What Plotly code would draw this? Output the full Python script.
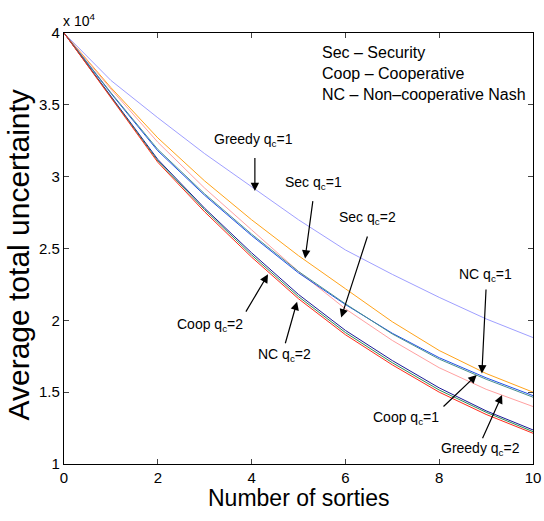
import plotly.graph_objects as go

# Number of sorties
sorties = list(range(0, 11))

# Average total uncertainty (in units of 10^4)
greedy_q1 = [4.0, 3.67, 3.41, 3.16, 2.93, 2.70, 2.49, 2.32, 2.16, 2.01, 1.88]
sec_q1 = [4.0, 3.62, 3.27, 2.97, 2.70, 2.45, 2.22, 1.99, 1.79, 1.63, 1.50]
greedy_q2 = [4.0, 3.61, 3.24, 2.92, 2.63, 2.34, 2.08, 1.86, 1.67, 1.52, 1.40]
nc_q1 = [4.0, 3.58, 3.18, 2.87, 2.59, 2.33, 2.11, 1.91, 1.74, 1.60, 1.476]
coop_q1 = [4.0, 3.585, 3.19, 2.88, 2.60, 2.34, 2.115, 1.905, 1.73, 1.59, 1.465]
sec_q2 = [4.0, 3.56, 3.12, 2.78, 2.47, 2.18, 1.93, 1.72, 1.53, 1.37, 1.237]
coop_q2 = [4.0, 3.555, 3.11, 2.77, 2.455, 2.165, 1.915, 1.705, 1.515, 1.36, 1.225]
nc_q2 = [4.0, 3.55, 3.10, 2.755, 2.44, 2.15, 1.90, 1.69, 1.50, 1.345, 1.214]

series = [
    ("Greedy q1", greedy_q1, "#9f9fff"),
    ("Sec q1", sec_q1, "#ffa31a"),
    ("Greedy q2", greedy_q2, "#ffa0a0"),
    ("NC q1", nc_q1, "#2050e8"),
    ("Coop q1", coop_q1, "#4a9090"),
    ("Sec q2", sec_q2, "#1a1a99"),
    ("Coop q2", coop_q2, "#2e8b57"),
    ("NC q2", nc_q2, "#ff2a1a"),
]

x_ticks = [0, 2, 4, 6, 8, 10]
y_ticks = [1, 1.5, 2, 2.5, 3, 3.5, 4]
y_tick_text = ["1", "1.5", "2", "2.5", "3", "3.5", "4"]

# (label, text position, arrow tail, arrow tip) in data coordinates
callouts = [
    ("Greedy q<sub>c</sub>=1", (4.03, 3.255), (4.07, 3.14), (4.07, 2.90)),
    ("Sec q<sub>c</sub>=1", (5.33, 2.956), (5.31, 2.84), (5.14, 2.43)),
    ("Sec q<sub>c</sub>=2", (6.48, 2.71), (6.48, 2.594), (5.91, 2.02)),
    ("Coop q<sub>c</sub>=2", (3.11, 1.968), (3.86, 2.05), (4.35, 2.32)),
    ("NC q<sub>c</sub>=2", (4.71, 1.76), (4.71, 1.83), (4.97, 2.13)),
    ("NC q<sub>c</sub>=1", (8.98, 2.316), (9.0, 2.225), (8.91, 1.63)),
    ("Coop q<sub>c</sub>=1", (7.29, 1.32), (8.06, 1.39), (8.8, 1.62)),
    ("Greedy q<sub>c</sub>=2", (8.89, 1.105), (8.91, 1.168), (9.34, 1.48)),
]

font_family = "Liberation Sans, Arial, Helvetica, sans-serif"

fig = go.Figure()
for name, ys, color in series:
    fig.add_trace(go.Scatter(
        x=sorties, y=ys, mode="lines", name=name,
        line=dict(color=color, width=1),
        showlegend=False,
    ))

annotations = []
for label, (tx, ty), (ax, ay), (hx, hy) in callouts:
    annotations.append(dict(
        x=tx, y=ty, xref="x", yref="y", text=label, showarrow=False,
        font=dict(size=14, color="black", family=font_family),
    ))
    annotations.append(dict(
        x=hx, y=hy, ax=ax, ay=ay, xref="x", yref="y", axref="x", ayref="y",
        text="", showarrow=True, arrowhead=2, arrowsize=1.4, arrowwidth=1.2,
        arrowcolor="black",
    ))

# Abbreviation key
annotations.append(dict(
    x=0.546, y=0.978, xref="paper", yref="paper",
    xanchor="left", yanchor="top", align="left", showarrow=False,
    text="Sec – Security<br>Coop – Cooperative<br>NC – Non–cooperative Nash",
    font=dict(size=16, color="black", family=font_family),
))

# Axis multiplier
annotations.append(dict(
    x=0, y=1, xref="paper", yref="paper", xanchor="left", yanchor="bottom",
    xshift=-3, yshift=2, showarrow=False,
    text="x 10<sup>4</sup>",
    font=dict(size=14, color="black", family=font_family),
))

# Axis titles
annotations.append(dict(
    x=0.5, y=0, xref="paper", yref="paper", xanchor="center", yanchor="middle",
    yshift=-34, showarrow=False, text="Number of sorties",
    font=dict(size=23, color="black", family=font_family),
))
annotations.append(dict(
    x=0, y=0.5, xref="paper", yref="paper", xanchor="center", yanchor="middle",
    xshift=-46, yshift=-7, textangle=-90, showarrow=False,
    text="Average total uncertainty",
    font=dict(size=30, color="black", family=font_family),
))

fig.update_layout(
    width=544, height=521,
    margin=dict(l=64, r=11, t=33, b=57),
    paper_bgcolor="white", plot_bgcolor="white",
    font=dict(family=font_family, color="black", size=14),
    annotations=annotations,
    xaxis=dict(
        range=[0, 10], tickvals=x_ticks, ticks="inside", ticklen=5,
        showline=True, linecolor="black", linewidth=1.3, mirror="allticks",
        showgrid=False, zeroline=False, tickfont=dict(size=15),
        automargin=False,
    ),
    yaxis=dict(
        range=[1, 4], tickvals=y_ticks, ticktext=y_tick_text, ticks="inside",
        ticklen=5, showline=True, linecolor="black", linewidth=1.3,
        mirror="allticks", showgrid=False, zeroline=False,
        tickfont=dict(size=15), automargin=False,
    ),
)

fig.write_html("out.html")
